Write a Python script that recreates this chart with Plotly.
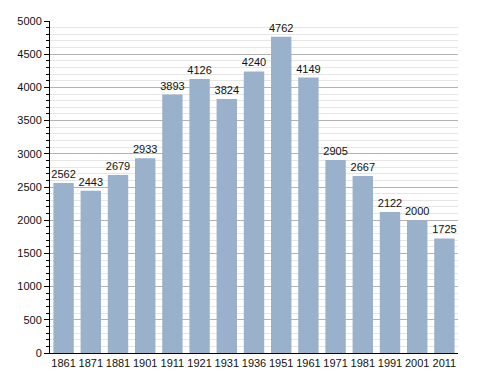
import plotly.graph_objects as go

years = ["1861", "1871", "1881", "1901", "1911", "1921", "1931", "1936", "1951", "1961", "1971", "1981", "1991", "2001", "2011"]
population = [2562, 2443, 2679, 2933, 3893, 4126, 3824, 4240, 4762, 4149, 2905, 2667, 2122, 2000, 1725]

fig = go.Figure(go.Bar(
    x=years, y=population,
    text=[str(v) for v in population], textposition="outside",
    constraintext="none",
    textfont=dict(size=11, color="#111111", family="Liberation Sans, Arial"),
    marker=dict(color="#9ab1cc", line=dict(width=0)),
    cliponaxis=False,
))

fig.update_layout(
    width=480, height=365,
    margin=dict(l=42, r=30, t=13, b=20),
    paper_bgcolor="white", plot_bgcolor="white",
    bargap=0.25,
    showlegend=False,
    font=dict(family="Liberation Sans, Arial", size=11, color="#111111"),
    xaxis=dict(type="category", showline=True, linecolor="#000000", linewidth=1,
               ticks="", showgrid=False, tickfont=dict(size=11), automargin=False),
    yaxis=dict(range=[0, 5000], dtick=500, showline=True, linecolor="#000000", linewidth=1,
               ticks="outside", ticklen=5, tickcolor="#000000", automargin=False,
               gridcolor="#b3b3b3", gridwidth=1, zeroline=False,
               tickfont=dict(size=11),
               minor=dict(dtick=100, showgrid=True, gridcolor="#e6e6e6", gridwidth=1,
                          ticks="outside", ticklen=3, tickcolor="#000000")),
)

fig.write_html("out.html")
